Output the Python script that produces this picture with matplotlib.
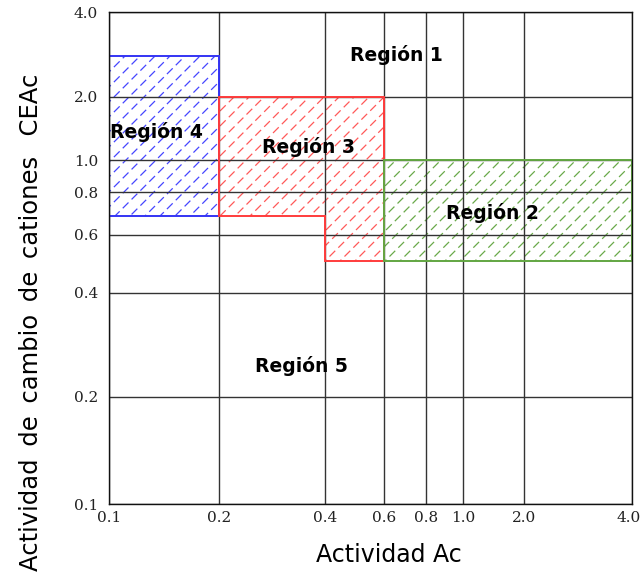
"""Region map of exchange activity vs. activity on a stretched log grid."""

import numpy as np
import matplotlib

matplotlib.use("Agg")
import matplotlib.pyplot as plt
from matplotlib.patches import Polygon
from matplotlib.collections import LineCollection
from matplotlib.transforms import ScaledTranslation

# tick values on both axes
x_ticks = [0.1, 0.2, 0.4, 0.6, 0.8, 1.0, 2.0, 4.0]
y_ticks = [0.1, 0.2, 0.4, 0.6, 0.8, 1.0, 2.0, 4.0]

# the grid is not evenly spaced in log units: calibration of each tick to a position
x_knot_pos = [0, 110, 216, 275, 317, 354, 415, 523]
y_knot_pos = [0, 107, 211, 269, 312, 344, 407, 492]

# region outlines (Ac, CEAc)
region2 = [(0.6, 0.5), (4.0, 0.5), (4.0, 1.0), (0.6, 1.0)]
region3 = [(0.2, 0.68), (0.2, 2.0), (0.6, 2.0), (0.6, 0.5), (0.4, 0.5), (0.4, 0.68)]
region4 = [(0.1, 0.68), (0.2, 0.68), (0.2, 2.8), (0.1, 2.8)]

labels = ["Región 1", "Región 2", "Región 3", "Región 4", "Región 5"]
label_pos = [(0.550, 0.913), (0.734, 0.591), (0.382, 0.726), (0.090, 0.757), (0.368, 0.281)]


def make_scale(ticks, pos):
    lt = np.log10(ticks)

    def forward(v):
        v = np.clip(np.asarray(v, dtype=float), 1e-6, None)
        return np.interp(np.log10(v), lt, pos, left=pos[0], right=pos[-1])

    def inverse(p):
        return 10 ** np.interp(np.asarray(p, dtype=float), pos, lt)

    return forward, inverse


def dashed_hatch(ax, patch, color, step_px=15):
    # 45-degree dashed strokes in axes space, clipped to the patch outline
    bb = ax.get_position()
    fig = ax.figure
    w = bb.width * fig.get_figwidth() * fig.dpi
    h = bb.height * fig.get_figheight() * fig.dpi
    dx = step_px / w
    run = h / w
    segs = [[(x0, 0), (x0 + run, 1)] for x0 in np.arange(-run, 1 + dx, dx)]
    lc = LineCollection(segs, colors=color, linewidths=0.9,
                        linestyles=[(0, (6.5, 3.5))], transform=ax.transAxes, zorder=1)
    ax.add_collection(lc)
    lc.set_clip_path(patch)


fig = plt.figure(figsize=(6.42, 5.77), dpi=100)
ax = fig.add_axes([109 / 642, 1 - 504 / 577, 523 / 642, 492 / 577])

ax.set_xscale("function", functions=make_scale(x_ticks, x_knot_pos))
ax.set_yscale("function", functions=make_scale(y_ticks, y_knot_pos))
ax.set_xlim(0.1, 4.0)
ax.set_ylim(0.1, 4.0)

for pts, edge, hatch_col in [(region4, "#3434f4", "#4646ff"),
                             (region3, "#ff3c3c", "#ff5a5a"),
                             (region2, "#62a642", "#6aaa4a")]:
    poly = Polygon(pts, closed=True, facecolor="none", edgecolor=edge,
                   linewidth=1.4, zorder=2)
    ax.add_patch(poly)
    dashed_hatch(ax, poly, hatch_col)

ax.set_xticks(x_ticks)
ax.set_yticks(y_ticks)
ax.set_xticklabels([f"{v:.1f}" for v in x_ticks])
ax.set_yticklabels([f"{v:.1f}" for v in y_ticks])
ax.xaxis.set_minor_locator(matplotlib.ticker.NullLocator())
ax.yaxis.set_minor_locator(matplotlib.ticker.NullLocator())
ax.tick_params(length=0, labelsize=11, labelcolor="#222222")
ax.tick_params(axis="x", pad=5)
ax.tick_params(axis="y", pad=8)
for t in ax.get_xticklabels() + ax.get_yticklabels():
    t.set_fontfamily("DejaVu Serif")
last = ax.get_xticklabels()[-1]
last.set_transform(last.get_transform() + ScaledTranslation(-3 / 100, 0, fig.dpi_scale_trans))

ax.grid(True, color="#333333", linewidth=1.0)
for s in ax.spines.values():
    s.set_color("#111111")
    s.set_linewidth(1.0)

for text, (px, py) in zip(labels, label_pos):
    ax.text(px, py, text, transform=ax.transAxes, ha="center", va="center",
            fontsize=13.5, fontweight="bold", zorder=5)

fig.text(389 / 642, 1 - 555 / 577, "Actividad Ac", ha="center", va="center", fontsize=17)
fig.text(31 / 642, 1 - 322 / 577,
         "Actividad \u2009de \u2009cambio \u2009de \u2009cationes \u2009 CEAc",
         ha="center", va="center", rotation=90, fontsize=17.5)

fig.savefig("out.png", dpi=100)
